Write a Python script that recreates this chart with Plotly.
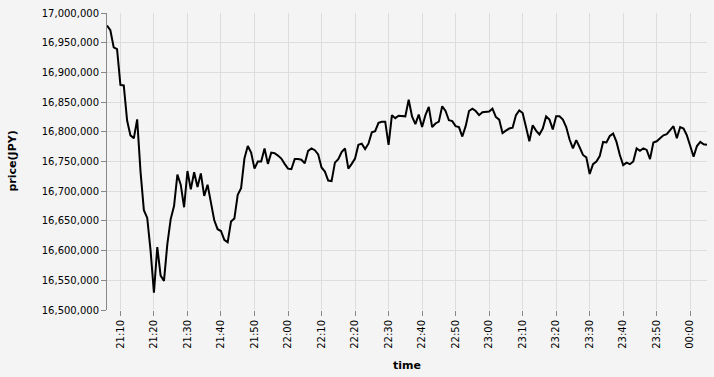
import pandas as pd
import plotly.graph_objects as go

start_time = "2024-01-01 21:06"
n_minutes = 180

prices = [
    16979000, 16971000, 16942000, 16939000, 16879000, 16878000, 16819000, 16794000, 16789000, 16821000,
    16733000, 16668000, 16655000, 16600000, 16529000, 16606000, 16558000, 16549000, 16611000, 16653000,
    16675000, 16728000, 16711000, 16673000, 16734000, 16703000, 16732000, 16707000, 16730000, 16692000,
    16711000, 16683000, 16651000, 16636000, 16633000, 16618000, 16614000, 16649000, 16654000, 16694000,
    16705000, 16755000, 16776000, 16765000, 16738000, 16750000, 16750000, 16772000, 16746000, 16765000,
    16764000, 16760000, 16755000, 16746000, 16738000, 16737000, 16754000, 16754000, 16753000, 16747000,
    16768000, 16772000, 16769000, 16762000, 16740000, 16733000, 16718000, 16717000, 16748000, 16754000,
    16766000, 16772000, 16738000, 16746000, 16755000, 16778000, 16780000, 16771000, 16780000, 16799000,
    16801000, 16815000, 16817000, 16817000, 16778000, 16828000, 16823000, 16827000, 16826000, 16826000,
    16854000, 16826000, 16813000, 16829000, 16808000, 16828000, 16842000, 16808000, 16814000, 16817000,
    16843000, 16835000, 16819500, 16818000, 16809500, 16808000, 16792000, 16809500, 16835000, 16839000,
    16835000, 16828000, 16833000, 16834000, 16834000, 16839000, 16825000, 16820500, 16798000, 16802000,
    16805500, 16807000, 16828000, 16836000, 16831700, 16808000, 16784000, 16811000, 16802000, 16795500,
    16805500, 16826000, 16820500, 16804000, 16826000, 16826000, 16820500, 16808000, 16787000, 16772000,
    16786000, 16774000, 16761000, 16757000, 16729000, 16745500, 16750000, 16759000, 16783000, 16782000,
    16793000, 16797000, 16783000, 16761000, 16744000, 16748000, 16745500, 16750000, 16772000, 16768000,
    16772000, 16769500, 16754000, 16782000, 16784000, 16789000, 16794000, 16796000, 16803000, 16809500,
    16789000, 16808000, 16805500, 16794000, 16776000, 16758000, 16776000, 16783000, 16779000, 16778000,
]

times = pd.date_range(start_time, periods=n_minutes, freq="min")
x_range = ["2024-01-01 21:06", "2024-01-02 00:05"]
y_range = [16500000, 17000000]

FONT = "DejaVu Sans"
BG = "#f4f4f4"

fig = go.Figure()
fig.add_trace(go.Scatter(
    x=times, y=prices, mode="lines",
    line=dict(color="black", width=2),
    hoverinfo="skip", showlegend=False,
))

fig.update_layout(
    width=714, height=377,
    margin=dict(l=107, r=7, t=10, b=67),
    paper_bgcolor=BG, plot_bgcolor=BG,
    font=dict(family=FONT, size=10, color="#000"),
    showlegend=False,
    xaxis=dict(
        type="date", range=x_range,
        tickformat="%H:%M", dtick=600000, tick0="2024-01-01 21:10",
        tickangle=-90,
        showgrid=True, gridcolor="#dddddd", gridwidth=1,
        ticks="outside", ticklen=5, tickcolor="#888888", tickwidth=1,
        showline=False, zeroline=False,
        tickfont=dict(family=FONT, size=10, color="#000"),
    ),
    yaxis=dict(
        range=y_range, dtick=50000, tick0=16500000,
        tickformat=",d",
        showgrid=True, gridcolor="#dddddd", gridwidth=1,
        ticks="outside", ticklen=5, tickcolor="#888888", tickwidth=1,
        showline=True, linecolor="#888888", linewidth=1,
        zeroline=False,
        tickfont=dict(family=FONT, size=10, color="#000"),
    ),
    annotations=[
        dict(text="<b>price(JPY)</b>", xref="paper", yref="paper",
             x=(12 - 107) / 600, y=0.5, xanchor="center", yanchor="middle",
             textangle=-90, showarrow=False,
             font=dict(family=FONT, size=11, color="#000")),
        dict(text="<b>time</b>", xref="paper", yref="paper",
             x=0.5, y=(310 - 366) / 300, xanchor="center", yanchor="middle",
             showarrow=False,
             font=dict(family=FONT, size=11, color="#000")),
    ],
)

fig.write_html("out.html")
